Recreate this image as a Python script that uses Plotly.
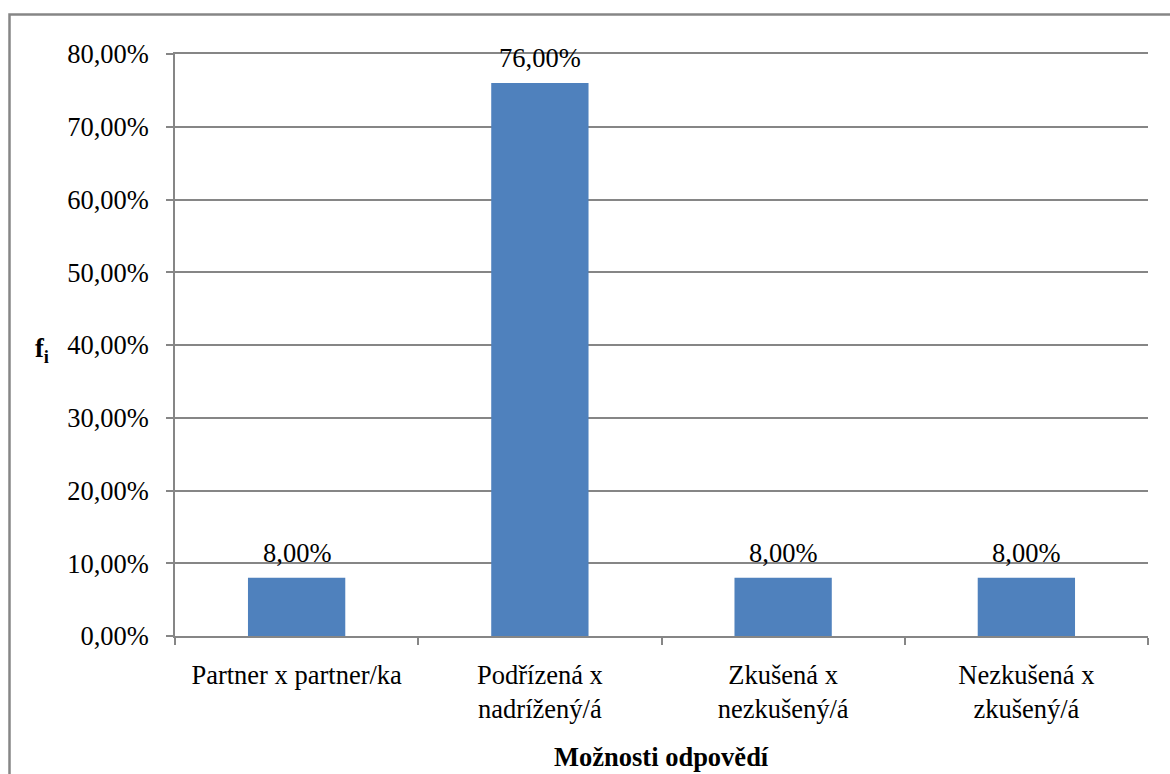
import plotly.graph_objects as go

# Response options and their relative frequencies (%)
categories = [
    "Partner x partner/ka",
    "Podřízená x<br>nadrížený/á",
    "Zkušená x<br>nezkušený/á",
    "Nezkušená x<br>zkušený/á",
]
values = [8.0, 76.0, 8.0, 8.0]
y_ticks = [0, 10, 20, 30, 40, 50, 60, 70, 80]


def pct(v):
    return f"{v:.2f}".replace(".", ",") + "%"


FONT = "Liberation Serif"
FS = 26.5
GRID = "#868686"
W, H = 1170, 774
ML, MR, MT, MB = 175, 22, 54, 138
PW, PH = W - ML - MR, H - MT - MB


def px_x(px):
    return (px - ML) / PW


def px_y(py):
    return (H - MB - py) / PH


fig = go.Figure(
    go.Bar(
        x=categories,
        y=values,
        width=0.4,
        marker=dict(color="#4F81BD", line=dict(width=0)),
        hoverinfo="x+y",
    )
)

# Value labels above each bar
for c, v in zip(categories, values):
    fig.add_annotation(
        x=c, y=v, text=pct(v), showarrow=False,
        yanchor="bottom", yshift=8,
        font=dict(family=FONT, size=FS, color="#000000"),
    )

# Horizontal y-axis title
fig.add_annotation(
    xref="paper", yref="paper", x=px_x(42), y=px_y(350),
    text="<b>f<sub>i</sub></b>", showarrow=False,
    xanchor="center", yanchor="middle",
    font=dict(family=FONT, size=FS, color="#000000"),
)

# X-axis title
fig.add_annotation(
    xref="paper", yref="paper", x=0.5, y=px_y(757),
    text="<b>Možnosti odpovědí</b>", showarrow=False,
    xanchor="center", yanchor="middle",
    font=dict(family=FONT, size=FS, color="#000000"),
)

# Outer chart frame
fig.add_shape(
    type="rect", xref="paper", yref="paper",
    x0=px_x(9.5), x1=px_x(W + 20),
    y0=px_y(H + 20), y1=px_y(14.5),
    line=dict(color=GRID, width=2.5), fillcolor="rgba(0,0,0,0)", layer="above",
)

fig.update_layout(
    width=W, height=H,
    margin=dict(l=ML, r=MR, t=MT, b=MB),
    paper_bgcolor="white", plot_bgcolor="white",
    showlegend=False,
    font=dict(family=FONT, size=FS, color="#000000"),
    xaxis=dict(
        type="category",
        showline=True, linecolor=GRID, linewidth=1.5, mirror=True,
        ticks="outside", tickson="boundaries", ticklen=7,
        tickcolor=GRID, tickwidth=1.5,
        showgrid=False,
        ticklabelstandoff=14,
        tickfont=dict(family=FONT, size=FS),
    ),
    yaxis=dict(
        range=[0, 80],
        tickvals=y_ticks,
        ticktext=[pct(t) for t in y_ticks],
        showline=True, linecolor=GRID, linewidth=1.5,
        ticks="outside", ticklen=7, tickcolor=GRID, tickwidth=1.5,
        showgrid=True, gridcolor=GRID, gridwidth=1.5,
        zeroline=False,
        ticklabelstandoff=12,
        tickfont=dict(family=FONT, size=FS),
    ),
)

fig.write_html("out.html")
